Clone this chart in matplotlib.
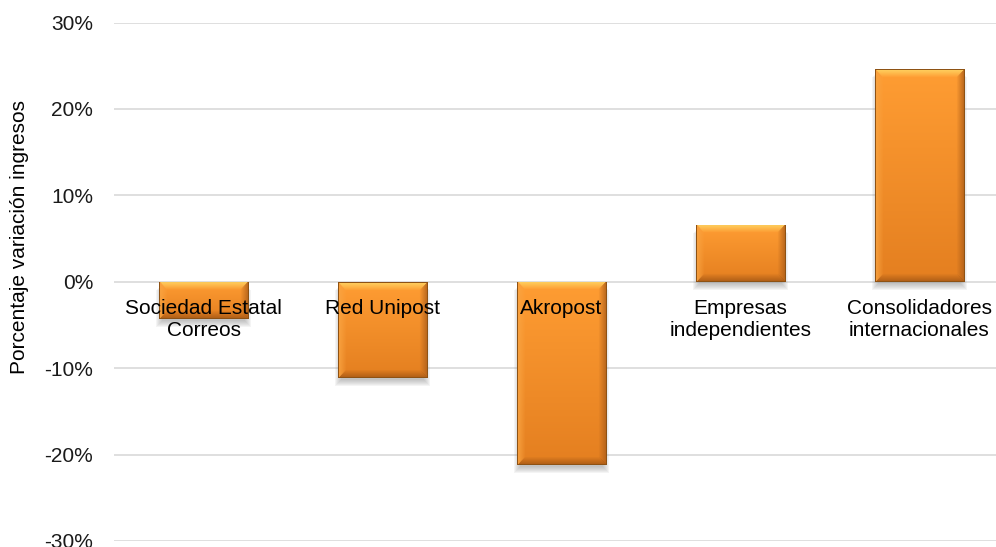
import matplotlib
matplotlib.use('Agg')
import matplotlib.pyplot as plt
import numpy as np
from matplotlib.colors import to_rgb
from matplotlib.patches import Rectangle
from matplotlib.ticker import FuncFormatter

categories = ['Sociedad Estatal\nCorreos', 'Red Unipost', 'Akropost',
              'Empresas\nindependientes', 'Consolidadores\ninternacionales']
values = [-4.3, -11.1, -21.2, 6.6, 24.6]

plt.rcParams['font.family'] = ['Liberation Sans', 'DejaVu Sans']

fig = plt.figure(figsize=(9.96, 5.47), dpi=100)
ax = fig.add_axes([114 / 996, 6 / 547, 895 / 996, 518.5 / 547])
x = np.arange(len(values))
ax.set_xlim(-0.5, 4.5)
ax.set_ylim(-30, 30)
width = 0.5

bars = ax.bar(x, values, width=width, color='#F7922E', edgecolor='none', zorder=2)


def bar_image(nx, ny, b=8):
    # vertical orange gradient with a bevelled rim
    yy, xx = np.mgrid[0:ny, 0:nx]
    t = (yy / max(ny - 1, 1))[..., None]
    top = np.array(to_rgb('#FF9D33'))
    bot = np.array(to_rgb('#E47F20'))
    img = top * (1 - t) + bot * t
    dt, db, dl, dr = yy, ny - 1 - yy, xx, nx - 1 - xx
    d = np.minimum.reduce([dt, db, dl, dr])
    edge_cols = [to_rgb('#FFD866'), to_rgb('#A85A16'), to_rgb('#F9A442'), to_rgb('#B0601A')]
    for dist, col in zip([dt, db, dl, dr], edge_cols):
        m = (dist == d) & (d < b)
        f = (1 - d / b)[..., None] * 0.9
        img = np.where(m[..., None], img * (1 - f) + np.array(col) * f, img)
    rim = d < 1
    img[rim] = to_rgb('#8E5214')
    return img


# px per data unit
p0 = ax.transData.transform((0, 0))
p1 = ax.transData.transform((1, 1))
pxx, pxy = p1[0] - p0[0], p1[1] - p0[1]

for bar, v in zip(bars, values):
    x0 = bar.get_x()
    y0 = min(0, v)
    h = abs(v)
    # soft shadow
    for k in range(1, 8):
        ax.add_patch(Rectangle((x0 - (k - 4) / pxx, y0 - (k + 1) / pxy),
                               width + 2 * (k - 4) / pxx, h,
                               facecolor='#707070', alpha=0.07, edgecolor='none', zorder=1.5))
    img = bar_image(int(width * pxx), max(int(h * pxy), 2))
    im = ax.imshow(img, extent=(x0, x0 + width, y0, y0 + h), origin='upper',
                   aspect='auto', zorder=2.1, interpolation='bilinear')
    im.set_clip_path(bar)

ax.set_xlim(-0.5, 4.5)
ax.set_ylim(-30, 30)

ax.set_yticks(np.arange(-30, 31, 10))
ax.yaxis.set_major_formatter(FuncFormatter(lambda v, p: f'{v:.0f}%'))
ax.tick_params(axis='y', length=0, pad=15, labelsize=15, labelcolor='#1a1a1a')
ax.set_xticks([])
ax.yaxis.grid(True, color='#D9D9D9', linewidth=1.2)
ax.set_axisbelow(True)
for s in ax.spines.values():
    s.set_visible(False)

for xi, cat in zip(x, categories):
    ax.annotate(cat, (xi, 0), xytext=(0, -12.5), textcoords='offset points',
                ha='center', va='top', fontsize=15, color='#000000', zorder=5,
                linespacing=1.22)

fig.text(20 / 996, 1 - 237 / 547, 'Porcentaje variación ingresos', rotation=90,
         ha='center', va='center', fontsize=15)

fig.savefig('out.png', dpi=100)
